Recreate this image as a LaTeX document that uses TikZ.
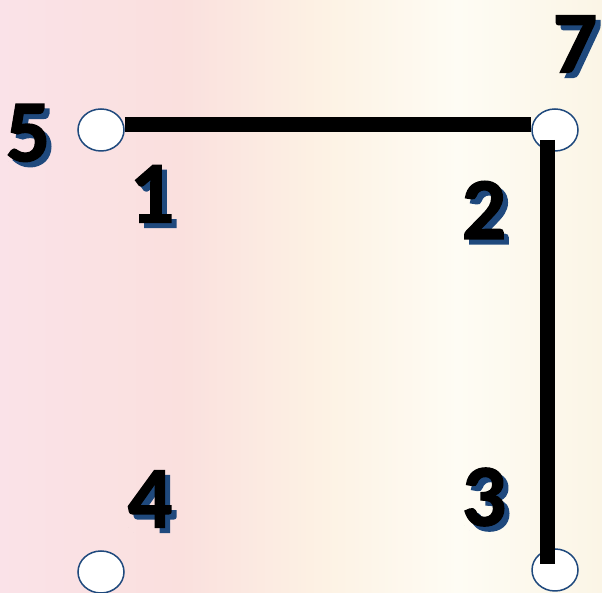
\documentclass[tikz,border=0pt]{standalone}
\usepackage{fontspec}
\setmainfont{Carlito}
\newfontfamily\digitfont[FakeBold=1.5]{Carlito Bold}
\usetikzlibrary{shapes.geometric, calc}

\definecolor{edgeblue}{RGB}{31,73,125}
\definecolor{bgpink}{RGB}{250,226,232}
\definecolor{bgrose}{RGB}{250,224,222}
\definecolor{bgmid}{RGB}{253,242,228}
\definecolor{bgwhite}{RGB}{254,252,244}
\definecolor{bgcream}{RGB}{251,245,230}
\pgfdeclarehorizontalshading{backdrop}{100bp}{color(0bp)=(bgpink); color(25bp)=(bgpink); color(40bp)=(bgrose); color(52bp)=(bgmid); color(63bp)=(bgwhite); color(75bp)=(bgcream); color(100bp)=(bgcream)}

% digit with a blue drop shadow: name, position, text
\newcommand{\digitlabel}[3]{%
    \node[digitshadow] at ($(#2)+(5,-5)$) {#3};
    \node[digit] (#1) at (#2) {#3};
}

\begin{document}
\begin{tikzpicture}[
    x=1pt, y=1pt,
    spot/.style={
        ellipse,
        draw=edgeblue,
        line width=1.5pt,
        fill=white,
        minimum width=46pt,
        minimum height=42pt,
        inner sep=0pt
    },
    digit/.style={
        font=\fontsize{88}{88}\digitfont,
        text=black,
        inner sep=0pt
    },
    digitshadow/.style={
        digit,
        text=edgeblue
    },
    bar/.style={
        line width=15pt,
        black
    }
]

% background
\shade[shading=backdrop] (0,0) rectangle (602,593);
\useasboundingbox (0,0) rectangle (602,593);

% spots
\node[spot] (s5) at (101,463) {};
\node[spot] (s7) at (555,463) {};
\node[spot] (s4) at (101,21) {};
\node[spot] (s3) at (555,23) {};

% bars
\draw[bar] ([yshift=5]s5.east) -- ([yshift=5]s7.west);
\draw[bar] ([shift={(-7.5,-10)}]s7.center) -- ([shift={(-7.5,6)}]s3.center);

% numbers
\digitlabel{n5}{28,460}{5}
\digitlabel{n7}{575,549}{7}
\digitlabel{n1}{152,399}{1}
\digitlabel{n2}{484,383}{2}
\digitlabel{n4}{150,94}{4}
\digitlabel{n3}{484,96}{3}

\end{tikzpicture}
\end{document}
